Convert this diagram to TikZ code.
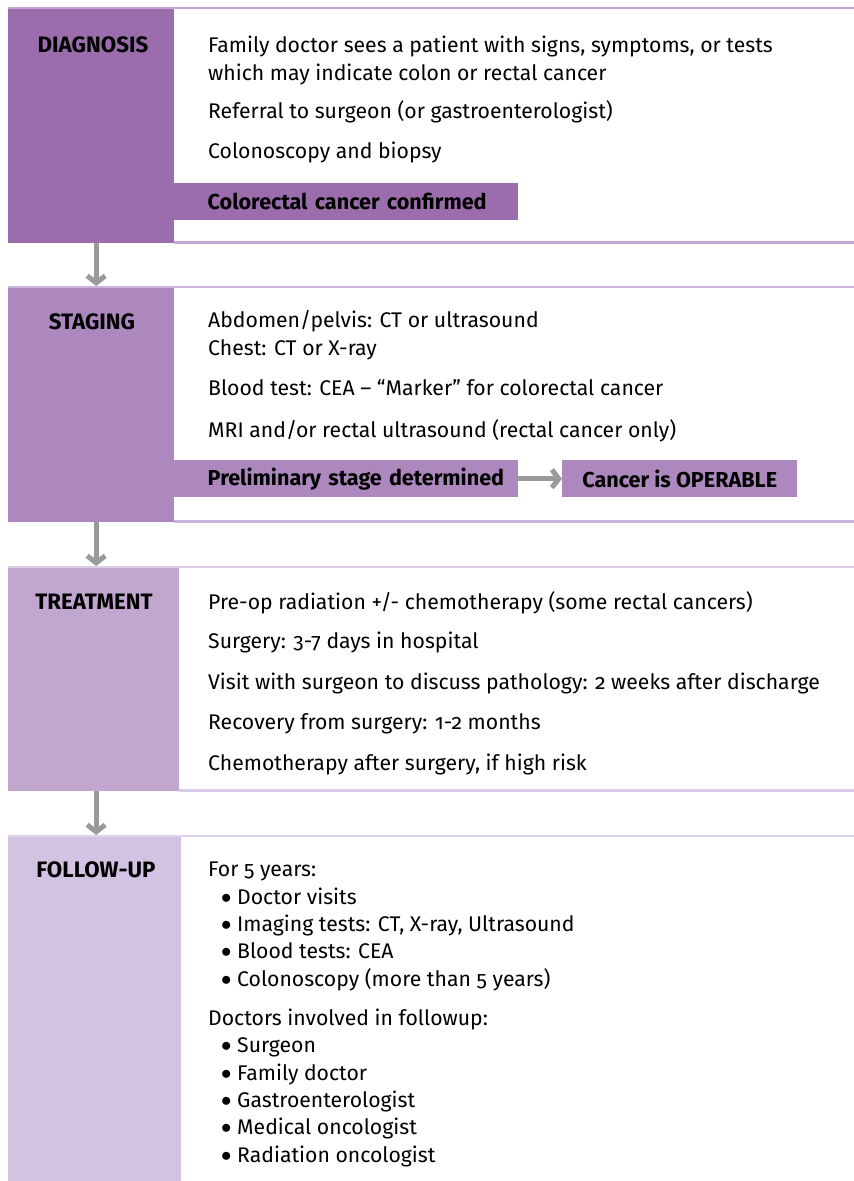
\documentclass[tikz,border=0pt]{standalone}
\usepackage{fontspec}
\setmainfont{Fira Sans}[Numbers=OldStyle]
\usepackage{xcolor}
\usetikzlibrary{arrows.meta, positioning, calc}

\definecolor{diagfill}{HTML}{9B6DAD}
\definecolor{stagfill}{HTML}{AD88BF}
\definecolor{treatfill}{HTML}{C1A6D0}
\definecolor{follfill}{HTML}{D3C3E2}
\definecolor{diagrule}{HTML}{C4A6D3}
\definecolor{stagrule}{HTML}{CBB2DA}
\definecolor{treatrule}{HTML}{DACCE7}
\definecolor{follrule}{HTML}{DED3EB}
\definecolor{flowgray}{HTML}{9A9A9A}

\newcommand{\bul}{\hspace*{13pt}\makebox[16pt][l]{\raisebox{1pt}{$\bullet$}}}

\begin{document}
\begin{tikzpicture}[
  x=1pt, y=-1pt,
  band/.style={
    rectangle,
    anchor=north west,
    inner sep=0pt,
    minimum height=#1
  },
  head/.style={
    anchor=base,
    inner sep=0pt,
    font=\fontsize{22.3}{27}\selectfont\bfseries
  },
  item/.style={
    anchor=base west,
    inner sep=0pt,
    align=left,
    font=\fontsize{21.2}{27.3}\selectfont
  },
  result/.style={
    rectangle,
    anchor=north west,
    inner ysep=0pt,
    minimum height=37pt,
    font=\fontsize{21.6}{27}\selectfont\bfseries
  },
  leftresult/.style={
    result,
    minimum width=344pt,
    text width=277pt,
    inner xsep=33.5pt,
    align=left
  },
  rule/.style={
    line width=2.5pt
  },
  flow/.style={
    draw=flowgray,
    line width=5pt,
    -{Straight Barb[length=7pt, width=18pt]}
  }
]
\useasboundingbox (0,0) rectangle (854,1181);
\coordinate (edge) at (854,0);

% =========================================================
% Left bands
% =========================================================
\node[band=236pt, minimum width=166pt, fill=diagfill]  (diag)   at (8,7)   {};
\node[band=236pt, minimum width=166pt, fill=stagfill]  (stag)   at (8,286) {};
\node[band=225pt, minimum width=171pt, fill=treatfill] (treat)  at (8,566) {};
\node[band=346pt, minimum width=173pt, fill=follfill]  (follow) at (8,835) {};

\node[head] (diaghead)   at (93,52)   {DIAGNOSIS};
\node[head] (staghead)   at (92,329)  {STAGING};
\node[head] (treathead)  at (94,609)  {TREATMENT};
\node[head] (followhead) at (96,877)  {FOLLOW-UP};

% =========================================================
% Rules across the page
% =========================================================
\draw[rule, diagrule]  ([yshift=-1pt]diag.north west) -- ([yshift=-1pt]diag.north west -| edge);
\draw[rule, diagrule]  ([yshift=1pt]diag.south east) -- ([yshift=1pt]diag.south east -| edge);
\draw[rule, stagrule]  ([yshift=-1pt]stag.north west) -- ([yshift=-1pt]stag.north west -| edge);
\draw[rule, stagrule]  ([yshift=1pt]stag.south east) -- ([yshift=1pt]stag.south east -| edge);
\draw[rule, treatrule] ([yshift=-1pt]treat.north west) -- ([yshift=-1pt]treat.north west -| edge);
\draw[rule, treatrule] ([yshift=1pt]treat.south east) -- ([yshift=1pt]treat.south east -| edge);
\draw[rule, follrule]  ([yshift=-1pt]follow.north west) -- ([yshift=-1pt]follow.north west -| edge);

% =========================================================
% Diagnosis
% =========================================================
\node[item] (d1) at (208,80)  {Family doctor sees a patient with signs, symptoms, or tests\\which may indicate colon or rectal cancer};
\node[item] (d2) at (208,118) {Referral to surgeon (or gastroenterologist)};
\node[item] (d3) at (208,158) {Colonoscopy and biopsy};

\node[leftresult, fill=diagfill] (confirmed) at (174,183) {\mbox{Colorectal cancer confirmed}};

% =========================================================
% Staging
% =========================================================
\node[item] (s1) at (208,355) {Abdomen/pelvis: CT or ultrasound\\Chest: CT or X-ray};
\node[item] (s2) at (208,395) {Blood test: CEA -- “Marker” for colorectal cancer};
\node[item] (s3) at (208,437) {MRI and/or rectal ultrasound (rectal cancer only)};

\node[leftresult, fill=stagfill] (prelim) at (174,460) {\mbox{Preliminary stage determined}};
\node[result, minimum width=235pt, fill=stagfill] (operable) at (562,460) {Cancer is OPERABLE};

\draw[flow] (prelim.east) -- (operable.west);

% =========================================================
% Treatment
% =========================================================
\node[item] (t1) at (208,609) {Pre-op radiation +/- chemotherapy (some rectal cancers)};
\node[item] (t2) at (208,648) {Surgery: 3-7 days in hospital};
\node[item] (t3) at (208,689) {Visit with surgeon to discuss pathology: 2 weeks after discharge};
\node[item] (t4) at (208,729) {Recovery from surgery: 1-2 months};
\node[item] (t5) at (208,770) {Chemotherapy after surgery, if high risk};

% =========================================================
% Follow-up
% =========================================================
\node[item] (f1) at (208,986)  {For 5 years:\\
  \bul Doctor visits\\
  \bul Imaging tests: CT, X-ray, Ultrasound\\
  \bul Blood tests: CEA\\
  \bul Colonoscopy (more than 5 years)};
\node[item] (f2) at (208,1162) {Doctors involved in followup:\\
  \bul Surgeon\\
  \bul Family doctor\\
  \bul Gastroenterologist\\
  \bul Medical oncologist\\
  \bul Radiation oncologist};

% =========================================================
% Flow between stages
% =========================================================
\draw[flow] ([xshift=5pt]diag.south) -- ([xshift=5pt]stag.north);
\draw[flow] ([xshift=5pt]stag.south) -- ([xshift=5pt]treat.north -| stag.south);
\draw[flow] ([xshift=2.5pt]treat.south) -- ([xshift=2.5pt]follow.north -| treat.south);

\end{tikzpicture}
\end{document}
